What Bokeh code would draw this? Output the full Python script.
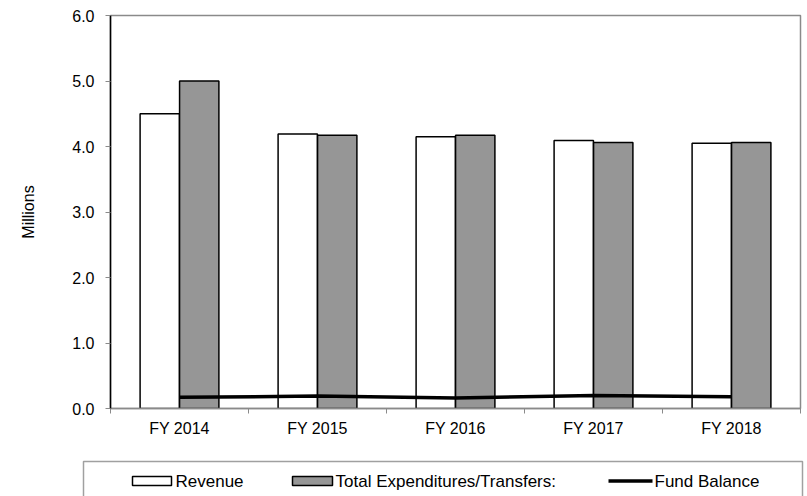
from bokeh.plotting import figure
from bokeh.layouts import column, row
from bokeh.models import Range1d, FixedTicker, PrintfTickFormatter
from bokeh.core.properties import value
from bokeh.embed import file_html
from bokeh.resources import INLINE

# Fiscal years and amounts (millions)
years = ["FY 2014", "FY 2015", "FY 2016", "FY 2017", "FY 2018"]
revenue = [4.50, 4.19, 4.15, 4.09, 4.05]
expenditures = [5.00, 4.17, 4.17, 4.06, 4.06]
fund_balance = [0.17, 0.19, 0.16, 0.20, 0.18]
y_ticks = [0, 1, 2, 3, 4, 5, 6]

FONT = "Liberation Sans"
BAR_W = 0.285
OFFSET = 0.143

centers = [i + 0.5 for i in range(len(years))]

p = figure(width=807, height=455, output_backend="svg", toolbar_location=None,
           x_range=Range1d(0, len(years)), y_range=Range1d(0, 6),
           min_border_left=110, min_border_right=7, min_border_top=15,
           min_border_bottom=47)
p.background_fill_color = "white"
p.border_fill_color = "white"
p.outline_line_color = "#8a8a8a"
p.outline_line_width = 1.5
p.xgrid.visible = False
p.ygrid.visible = False

p.vbar(x=[c - OFFSET for c in centers], top=revenue, width=BAR_W,
       fill_color="white", line_color="black", line_width=1.5)
p.vbar(x=[c + OFFSET for c in centers], top=expenditures, width=BAR_W,
       fill_color="#969696", line_color="black", line_width=1.5)
p.line(x=centers, y=fund_balance, line_color="black", line_width=3.5)

# x axis: labels at category centres, small ticks at category boundaries
xa = p.xaxis[0]
xa.ticker = FixedTicker(ticks=centers, minor_ticks=list(range(len(years) + 1)))
xa.major_label_overrides = {c: y for c, y in zip(centers, years)}
xa.major_tick_out = 0
xa.major_tick_in = 0
xa.minor_tick_out = 5
xa.minor_tick_in = 0
xa.minor_tick_line_color = "#8a8a8a"
xa.axis_line_color = "#8a8a8a"
xa.axis_line_width = 1.5
xa.major_label_standoff = 6
xa.major_label_text_font = FONT
xa.major_label_text_font_size = "16px"
xa.major_label_text_color = "black"

ya = p.yaxis[0]
ya.ticker = FixedTicker(ticks=y_ticks, minor_ticks=[])
ya.formatter = PrintfTickFormatter(format="%.1f")
ya.major_tick_out = 5
ya.major_tick_in = 0
ya.major_tick_line_color = "#8a8a8a"
ya.axis_line_color = "black"
ya.axis_line_width = 1.5
ya.major_label_standoff = 11
ya.major_label_text_font = FONT
ya.major_label_text_font_size = "16px"
ya.major_label_text_color = "black"
ya.axis_label = "Millions"
ya.axis_label_text_font = FONT
ya.axis_label_text_font_size = "16px"
ya.axis_label_text_font_style = "normal"
ya.axis_label_text_color = "black"
ya.axis_label_standoff = 32

# Legend strip below the chart, drawn in pixel-like coordinates
leg = figure(width=807, height=41, output_backend="svg", toolbar_location=None,
             x_range=Range1d(0, 807), y_range=Range1d(41, 0),
             min_border=0, min_border_left=0, min_border_right=0,
             min_border_top=0, min_border_bottom=0)
leg.axis.visible = False
leg.grid.visible = False
leg.outline_line_color = None
leg.background_fill_color = "white"
leg.border_fill_color = "white"

leg.quad(left=[83], right=[802], top=[6], bottom=[80], fill_color=None,
         line_color="#a0a0a0", line_width=1.5)
leg.quad(left=[132], right=[171], top=[21], bottom=[30], fill_color="white",
         line_color="black", line_width=1.5)
leg.quad(left=[292], right=[332], top=[21], bottom=[30], fill_color="#969696",
         line_color="black", line_width=1.5)
leg.line(x=[608, 652], y=[25.5, 25.5], line_color="black", line_width=3.5)
leg.text(x=[175, 335, 654], y=[26, 26, 26],
         text=["Revenue", "Total Expenditures/Transfers:", "Fund Balance"],
         text_font=value(FONT), text_font_size="17px", text_color="black",
         text_baseline="middle", text_align="left")

layout = column(p, row(leg), spacing=0)
open("out.html", "w").write(file_html(layout, INLINE))
